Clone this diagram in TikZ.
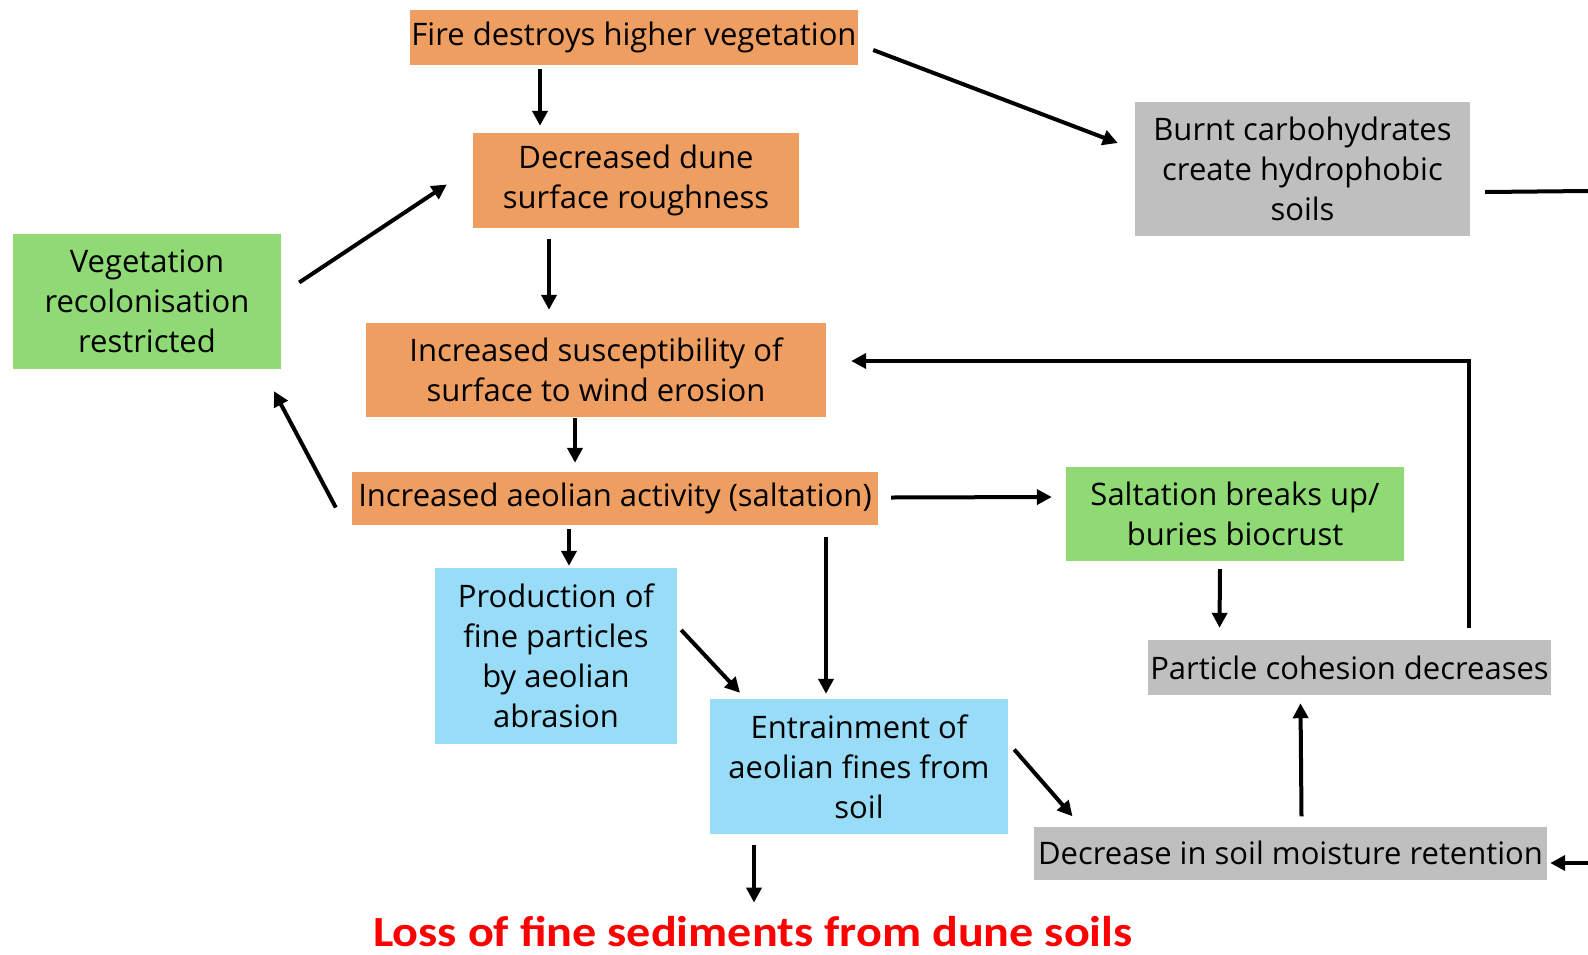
\documentclass[tikz,border=0pt]{standalone}
\usepackage{fontspec}
\setmainfont{Open Sans}
\newfontfamily\lossfont{Carlito}
\usetikzlibrary{arrows.meta,calc}
\definecolor{orng}{HTML}{EE9E60}
\definecolor{grn}{HTML}{8FDA74}
\definecolor{blu}{HTML}{98DCF8}
\definecolor{gry}{HTML}{BFBFBF}
\definecolor{lossred}{HTML}{FF0000}
\begin{document}
\begin{tikzpicture}[x=1pt,y=-1pt,
  box/.style={inner sep=0pt, align=center, font=\fontsize{31}{40}\selectfont, text=black},
  ob/.style={box, fill=orng},
  gb/.style={box, fill=grn},
  bb/.style={box, fill=blu},
  yb/.style={box, fill=gry},
  arr/.style={line width=4pt, -{Triangle[length=15pt,width=15pt]}},
  ln/.style={line width=4pt}]
\useasboundingbox (0,0) rectangle (1588,954);
% nodes
\node[ob, minimum width=448pt, minimum height=55pt] (fire) at (634,37.5) {Fire destroys higher vegetation};
\node[ob, minimum width=326pt, minimum height=95pt] (dec) at (636,180.5) {Decreased dune\\surface roughness};
\node[yb, minimum width=335pt, minimum height=134pt] (burnt) at (1302.5,169) {Burnt carbohydrates\\create hydrophobic\\soils};
\node[gb, minimum width=268pt, minimum height=135pt] (veg) at (147,301.5) {Vegetation\\recolonisation\\restricted};
\node[ob, minimum width=460pt, minimum height=94pt] (susc) at (596,370) {Increased susceptibility of\\surface to wind erosion};
\node[ob, minimum width=526pt, minimum height=53pt] (aeol) at (615,498.5) {Increased aeolian activity (saltation)};
\node[gb, minimum width=338pt, minimum height=94pt] (salt) at (1235,514) {Saltation breaks up/\\buries biocrust};
\node[bb, minimum width=242pt, minimum height=176pt] (prod) at (556,656) {Production of\\fine particles\\by aeolian\\abrasion};
\node[yb, minimum width=403pt, minimum height=55pt] (coh) at (1349.5,667.5) {Particle cohesion decreases};
\node[bb, minimum width=298pt, minimum height=135pt] (ent) at (859,766.5) {Entrainment of\\aeolian fines from\\soil};
\node[yb, minimum width=513pt, minimum height=53pt] (dsm) at (1290.5,853) {Decrease in soil moisture retention};
\node[inner sep=0pt, anchor=base, text=lossred, font=\lossfont\fontsize{43}{43}\selectfont\bfseries] (loss) at (753,946) {\scalebox{1.12}[1]{Loss of fine sediments from dune soils}};
\coordinate (r1) at (1588,191);
\coordinate (r2) at (1588,863);
% connectors
\draw[arr] ($(fire.south)+(-94,4)$) -- ($(dec.north)+(-96,-7)$);
\draw[arr] ($(fire.east)+(15,12.5)$) -- ($(burnt.west)+(-17,-26)$);
\draw[ln] ($(burnt.east)+(15,23)$) -- (r1);
\draw[arr] ($(veg.east)+(18,-19)$) -- ($(dec.west)+(-26,4)$);
\draw[arr] ($(dec.south)+(-87,11)$) -- ($(susc.north)+(-47,-13)$);
\draw[arr] ($(coh.north)+(119,-12)$) |- ($(susc.east)+(25,-9)$);
\draw[arr] ($(susc.south)+(-21,1)$) -- ($(aeol.north)+(-40,-9)$);
\draw[arr] ($(aeol.west)+(-16,9)$) -- ($(veg.south)+(127,22)$);
\draw[arr] ($(aeol.east)+(13,-1)$) -- ($(salt.west)+(-14,-17)$);
\draw[arr] ($(aeol.south)+(-46,4)$) -- ($(prod.north)+(13,-2)$);
\draw[arr] ($(aeol.south)+(211,12)$) -- ($(ent.north)+(-33,-5)$);
\draw[arr] ($(prod.east)+(4,-26)$) -- ($(ent.north)+(-119,-6)$);
\draw[arr] ($(salt.south)+(-15,8)$) -- ($(coh.north)+(-130,-12)$);
\draw[arr] ($(dsm.north)+(11,-10)$) -- ($(coh.south)+(-49,8)$);
\draw[arr] ($(ent.east)+(6,-17)$) -- ($(dsm.north)+(-218,-10)$);
\draw[arr] ($(ent.south)+(-105,11)$) -- ($(loss.north)+(1,-13)$);
\draw[arr] (r2) -- ($(dsm.east)+(3,10)$);
\end{tikzpicture}
\end{document}
